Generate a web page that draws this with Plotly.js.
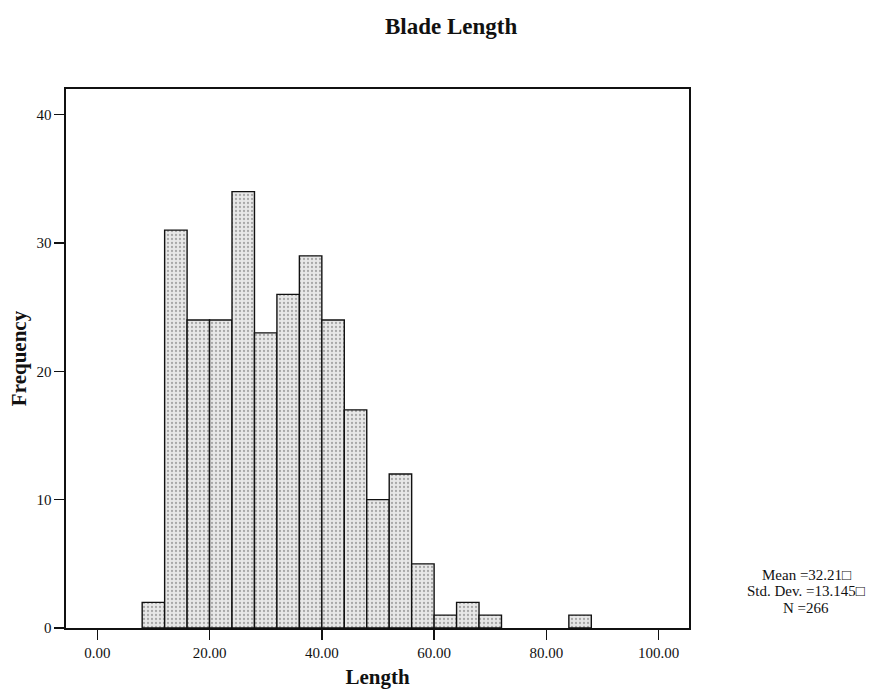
<!DOCTYPE html>
<html>
<head>
<meta charset="utf-8">
<script src="https://cdn.plot.ly/plotly-3.0.1.min.js"></script>
<style>body{margin:0;background:#fff}#chart{width:876px;height:689px}</style>
</head>
<body>
<div id="chart"></div>
<script>
// Histogram bins (width 4) and frequencies
const binCenters = [10, 14, 18, 22, 26, 30, 34, 38, 42, 46, 50, 54, 58, 62, 66, 70, 86];
const counts     = [2, 31, 24, 24, 34, 23, 26, 29, 24, 17, 10, 12, 5, 1, 2, 1, 1];
const binWidth = 4;
const xTickVals = [0, 20, 40, 60, 80, 100];
const xTickText = ["0.00", "20.00", "40.00", "60.00", "80.00", "100.00"];
const yTickVals = [0, 10, 20, 30, 40];
const statsLines = ["Mean =32.21\u25A1", "Std. Dev. =13.145\u25A1", "N =266"];

const serif = "Liberation Serif, Times New Roman, serif";

const trace = {
  type: "bar",
  x: binCenters,
  y: counts,
  width: binCenters.map(() => binWidth),
  marker: {
    color: "#e4e4e4",
    line: {color: "#111", width: 1.4},
    pattern: {shape: ".", fgcolor: "#a8a8a8", bgcolor: "#e8e8e8", size: 4, solidity: 0.25}
  },
  hoverinfo: "skip"
};

const statsY = [0.0983, 0.0686, 0.0371];
const annotations = statsLines.map((t, i) => ({
  xref: "paper", yref: "paper", x: 1.188, y: statsY[i], xanchor: "center", yanchor: "middle",
  text: t, showarrow: false, font: {family: serif, size: 15, color: "#111"}
}));

const layout = {
  width: 876, height: 689,
  margin: {l: 66, r: 187, t: 89, b: 61},
  paper_bgcolor: "#fff", plot_bgcolor: "#fff",
  showlegend: false,
  bargap: 0,
  title: {text: "<b>Blade Length</b>", font: {family: serif, size: 23, color: "#111"},
          x: 0.515, xref: "container", y: 0.962, yref: "container", xanchor: "center", yanchor: "middle"},
  xaxis: {
    range: [-5.57, 105.4], tickvals: xTickVals, ticktext: xTickText,
    ticks: "outside", ticklen: 10, tickwidth: 1.5, tickcolor: "#111",
    showline: true, linecolor: "#111", linewidth: 1.6, mirror: true,
    showgrid: false, zeroline: false,
    tickfont: {family: serif, size: 15, color: "#111"},
    title: {text: "<b>Length</b>", font: {family: serif, size: 21, color: "#111"}, standoff: 10}
  },
  yaxis: {
    range: [0, 42], tickvals: yTickVals,
    ticks: "outside", ticklen: 10, tickwidth: 1.5, tickcolor: "#111",
    showline: true, linecolor: "#111", linewidth: 1.6, mirror: true,
    showgrid: false, zeroline: false,
    tickfont: {family: serif, size: 15, color: "#111"},
    title: {text: "<b>Frequency</b>", font: {family: serif, size: 21, color: "#111"}, standoff: 4}
  },
  annotations: annotations
};

Plotly.newPlot("chart", [trace], layout, {displayModeBar: false, staticPlot: true});
</script>
</body>
</html>
